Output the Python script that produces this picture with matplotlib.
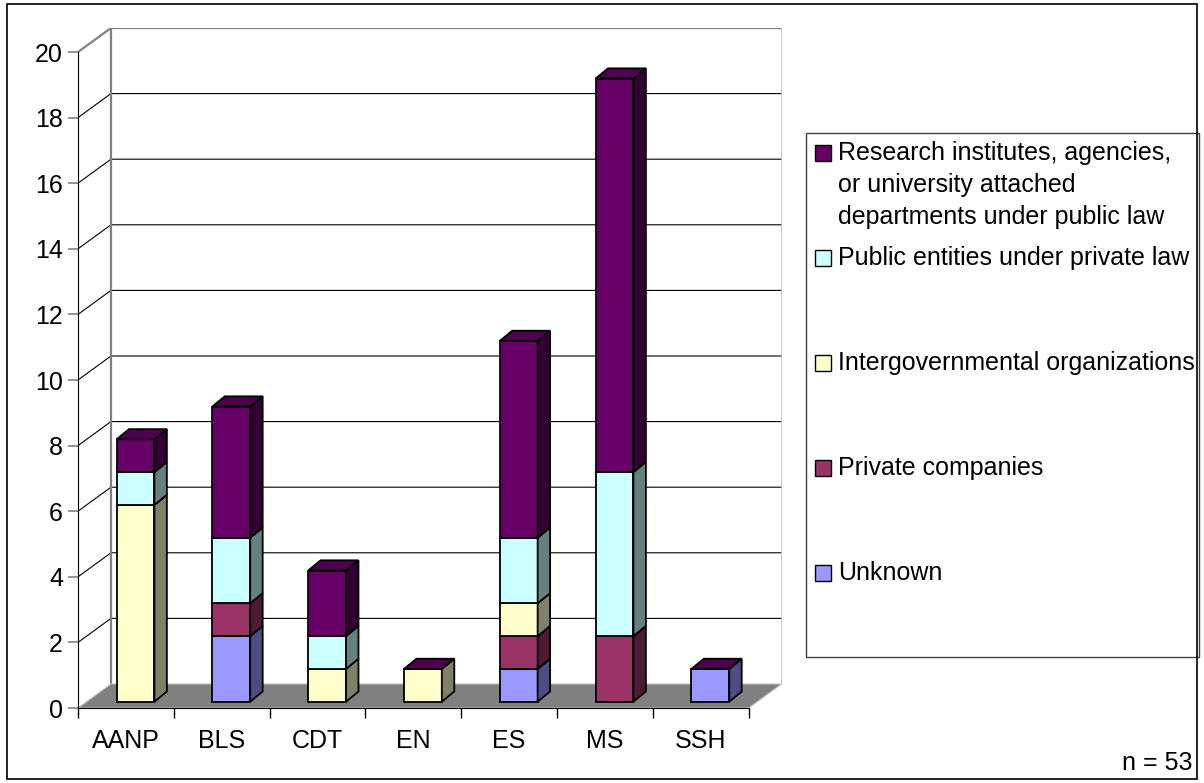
import matplotlib
matplotlib.use("Agg")
import matplotlib.pyplot as plt
from matplotlib.patches import Polygon, Rectangle
import matplotlib.colors as mcolors
import numpy as np

plt.rcParams['font.family'] = ['Liberation Sans', 'DejaVu Sans']

# Chart data: counts per domain, stacked by type of organization
categories = ['AANP', 'BLS', 'CDT', 'EN', 'ES', 'MS', 'SSH']
unknown = [0, 2, 0, 0, 1, 0, 1]
private_companies = [0, 1, 0, 0, 1, 2, 0]
intergovernmental = [6, 0, 1, 1, 1, 0, 0]
public_private_law = [1, 2, 1, 0, 2, 5, 0]
research_public_law = [1, 4, 2, 0, 6, 12, 0]

series = [unknown, private_companies, intergovernmental, public_private_law, research_public_law]
series_names = ['Unknown', 'Private companies', 'Intergovernmental organizations',
                'Public entities under private law',
                'Research institutes, agencies,\nor university attached\ndepartments under public law']
colors = ['#9999FF', '#993366', '#FFFFCC', '#CCFFFF', '#660066']
n_total = sum(sum(s) for s in series)

W, H = 1204, 783
fig = plt.figure(figsize=(W / 100, H / 100), dpi=100)
fig.patch.set_facecolor('white')


def fx(px):
    return px / W


def fy(py):
    return (H - py) / H


# 3-D look: depth of the plot box and of each bar, in data units
depth_x, depth_y = 0.344, 0.732
bar_w = 0.395
bar_shift_x, bar_shift_y = 0.10, 0.192
side_x, side_y = 0.13, 0.31
ymax = 20

ax = fig.add_axes([fx(78), fy(708), fx(781.6) - fx(78), fy(28) - fy(708)])
ax.set_xlim(-0.5, 6.5 + depth_x)
ax.set_ylim(0, ymax + depth_y)
ax.patch.set_visible(False)


def shade(c, f):
    r, g, b = mcolors.to_rgb(c)
    return (r * f, g * f, b * f)


# walls and floor
left = -0.5
right = len(categories) - 0.5
bx0, bx1 = left + depth_x, right + depth_x
for v in range(2, ymax, 2):
    ax.plot([left, bx0, bx1], [v, v + depth_y, v + depth_y], color='black', lw=0.8, zorder=1)
ax.plot([left, bx0, bx1], [ymax, ymax + depth_y, ymax + depth_y], color='#808080', lw=1.6, zorder=1)
ax.plot([bx0, bx0], [depth_y, ymax + depth_y], color='#808080', lw=1.6, zorder=1)
ax.plot([bx1, bx1], [depth_y, ymax + depth_y], color='#C0C0C0', lw=1.2, zorder=1)
floor = Polygon([[left, 0], [right, 0], [bx1, depth_y], [bx0, depth_y]], closed=True,
                facecolor='#808080', edgecolor='#C0C0C0', lw=0.8, zorder=2)
ax.add_patch(floor)

# stacked bars: front faces through ax.bar, side faces as polygons
x = np.arange(len(categories))
bottom = np.zeros(len(categories))
for vals, col in zip(series, colors):
    vals = np.array(vals, dtype=float)
    for i in range(len(categories)):
        if vals[i] == 0:
            continue
        xc = x[i] + bar_shift_x
        y0 = bottom[i] + bar_shift_y
        y1 = y0 + vals[i]
        ax.bar(xc, vals[i], width=bar_w, bottom=y0, color=col, edgecolor='black',
               lw=1.3, zorder=4)
        xr = xc + bar_w / 2
        side = Polygon([[xr, y0], [xr + side_x, y0 + side_y], [xr + side_x, y1 + side_y], [xr, y1]],
                       closed=True, facecolor=shade(col, 0.5), edgecolor='black', lw=1.3, zorder=4)
        ax.add_patch(side)
    bottom += vals

# top caps take the colour of the last series in the stack
cap_color = shade(colors[-1], 0.75)
for i in range(len(categories)):
    xl = x[i] + bar_shift_x - bar_w / 2
    xr = xl + bar_w
    y1 = bottom[i] + bar_shift_y
    top = Polygon([[xl, y1], [xr, y1], [xr + side_x, y1 + side_y], [xl + side_x, y1 + side_y]],
                  closed=True, facecolor=cap_color, edgecolor='black', lw=1.3, zorder=4)
    ax.add_patch(top)

# axes, ticks and labels
for s in ['top', 'right']:
    ax.spines[s].set_visible(False)
ax.spines['left'].set_bounds(0, ymax)
ax.spines['bottom'].set_bounds(left, right)
ax.spines['left'].set_zorder(5)
ax.spines['bottom'].set_zorder(5)
ax.set_yticks(range(0, ymax + 1, 2))
ax.tick_params(axis='y', length=7.2, width=1.2, color='#808080', pad=3.6, labelsize=18)
ax.set_xticks(np.arange(len(categories) + 1) - 0.5)
ax.set_xticklabels([])
ax.tick_params(axis='x', which='major', length=7.2, width=1.0, color='black')
ax.set_xticks(x, minor=True)
ax.set_xticklabels(categories, minor=True)
ax.tick_params(axis='x', which='minor', length=0, pad=15, labelsize=18)

# legend box
fig.patches.append(Rectangle((fx(806), fy(657)), fx(1199) - fx(806), fy(133) - fy(657),
                             transform=fig.transFigure, facecolor='white',
                             edgecolor='#404040', lw=1.0))
legend_rows = [(4, [153, 185, 217]), (3, [258]), (2, [363]), (1, [468]), (0, [573])]
for idx, ys in legend_rows:
    fig.patches.append(Rectangle((fx(815), fy(ys[0] + 8)), fx(16), 16 / H,
                                 transform=fig.transFigure, facecolor=colors[idx],
                                 edgecolor='black', lw=1.0))
    for line, yy in zip(series_names[idx].split('\n'), ys):
        fig.text(fx(838), fy(yy), line, fontsize=18, va='center', ha='left')

fig.text(fx(1193), fy(763), f'n = {n_total}', fontsize=18, va='center', ha='right')

# chart border
fig.patches.append(Rectangle((fx(7), fy(779)), fx(1197) - fx(7), fy(4) - fy(779),
                             transform=fig.transFigure, facecolor='none',
                             edgecolor='black', lw=1.2))

fig.savefig('out.png', dpi=100)
